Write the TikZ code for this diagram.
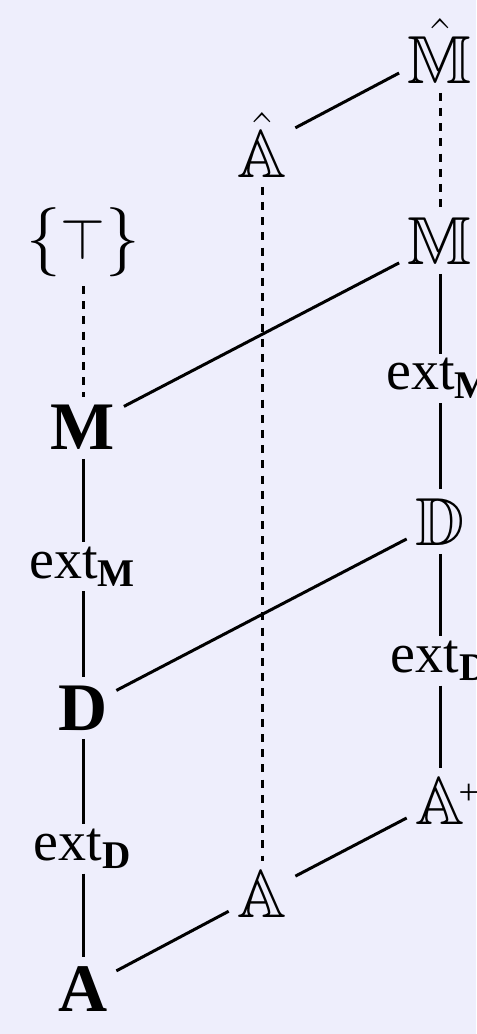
\documentclass[tikz,border=0pt]{standalone}
\usepackage{amsmath, amssymb}
\usepackage{fontspec}
\setmainfont{Liberation Serif}
\usetikzlibrary{positioning}

\definecolor{bgpage}{HTML}{EEEEFC}
\newcommand{\extmap}[1]{\text{ext}_{\textbf{#1}}}
\newcommand{\plusmark}{\rlap{\kern-1.5pt\raisebox{5pt}{\fontsize{9}{9}\selectfont +}}}
\newcommand{\smalltop}{\text{\fontsize{14}{14}\selectfont$\top$}}

\tikzset{
  obj/.style={anchor=base, inner sep=2pt, font=\fontsize{17}{20}\selectfont},
  extlbl/.style={anchor=base, inner sep=1pt, font=\fontsize{14}{17}\selectfont},
  link/.style={line width=0.75pt},
  hidden/.style={line width=0.75pt, dash pattern=on 2pt off 1.8pt}
}

\begin{document}
\begin{tikzpicture}[x=0.25pt, y=-0.25pt]
  \fill[bgpage] (0,0) rectangle (476,1034);
  \useasboundingbox (0,0) rectangle (476,1034);

  % left column
  \node[obj, font=\fontsize{16}{19}\selectfont] (top) at (83,260) {$\{\smalltop\}$};
  \node[obj] (M) at (83,450) {\textbf{M}};
  \node[extlbl] (extM) at (83,578) {$\extmap{M}$};
  \node[obj] (D) at (83,730) {\textbf{D}};
  \node[extlbl] (extD) at (83,860) {$\extmap{D}$};
  \node[obj] (A) at (83,1011) {\textbf{A}};

  % middle column
  \node[obj] (hatA) at (262,178) {$\hat{\mathbb{A}}$};
  \node[obj] (bbA) at (262,917) {$\mathbb{A}$};

  % right column
  \node[obj] (hatM) at (440,84) {$\hat{\mathbb{M}}$};
  \node[obj] (bbM) at (440,265) {$\mathbb{M}$};
  \node[extlbl] (extMr) at (440,390) {$\extmap{M}$};
  \node[obj] (bbD) at (440,545) {$\mathbb{D}$};
  \node[extlbl] (extDr) at (440,672) {$\extmap{D}$};
  \node[obj] (bbAp) at (440,824) {$\mathbb{A}$\plusmark};

  % verticals
  \draw[hidden] (top) -- (M);
  \draw[link] (M) -- (extM) -- (D) -- (extD) -- (A);
  \draw[hidden] (hatA) -- (bbA);
  \draw[hidden] (hatM) -- (bbM);
  \draw[link] (bbM) -- (extMr) -- (bbD) -- (extDr) -- (bbAp);

  % diagonals
  \draw[link] (M) -- (bbM);
  \draw[link] (D) -- (bbD);
  \draw[link] (A) -- (bbA) -- (bbAp);
  \draw[link] (hatA) -- (hatM);
\end{tikzpicture}
\end{document}
